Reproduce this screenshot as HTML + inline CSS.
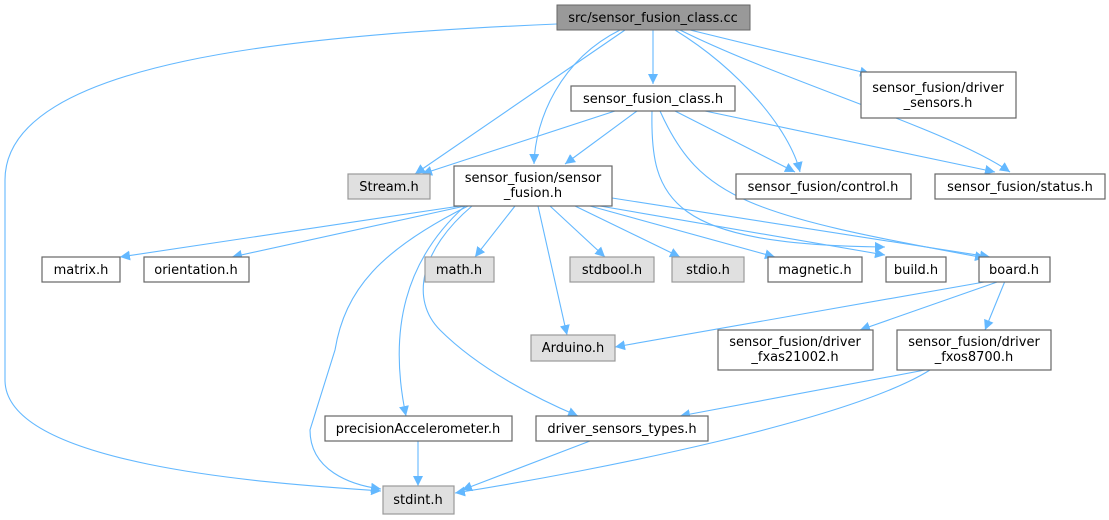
<!DOCTYPE html>
<html><head><meta charset="utf-8"><style>
html,body{margin:0;padding:0;background:#fff;}
svg{display:block;}
text{font-family:"DejaVu Sans","Liberation Sans",sans-serif;font-size:13px;fill:#000;}
.b{fill:#fff;stroke:#666;stroke-width:1.2;}
.g{fill:#e0e0e0;stroke:#999;stroke-width:1.2;}
.e{fill:none;stroke:#63b8ff;stroke-width:1.1;}
</style></head><body>
<svg width="1109" height="520" viewBox="0 0 1109 520" xmlns="http://www.w3.org/2000/svg">
<defs><marker id="a" viewBox="0 0 10 10" refX="10" refY="5" markerWidth="10" markerHeight="10" markerUnits="userSpaceOnUse" orient="auto"><path d="M0,0 L10,5 L0,10 z" fill="#63b8ff"/></marker></defs>
<g class="e" marker-end="url(#a)">
<path d="M557,24 C300,35 5,60 5,180 L5,380 C5,470 300,485 381,491"/>
<path d="M625,30 L415,174"/>
<path d="M620,30 C560,60 535,120 534,164"/>
<path d="M653,30 L653,84"/>
<path d="M675,30 C740,70 790,130 800,172"/>
<path d="M680,30 C780,80 950,130 1010,172"/>
<path d="M690,30 L870,74"/>
<path d="M615,111 L422,174"/>
<path d="M637,111 L565,164"/>
<path d="M675,111 L795,172"/>
<path d="M705,111 L995,172"/>
<path d="M652,111 C650,200 670,245 885,247"/>
<path d="M660,111 C700,200 750,215 985,258"/>
<path d="M460,206 L120,257"/>
<path d="M465,206 L232,257"/>
<path d="M515,206 L475,257"/>
<path d="M550,206 L605,257"/>
<path d="M575,206 L680,257"/>
<path d="M590,206 L775,257"/>
<path d="M600,206 L885,255"/>
<path d="M612,198 L990,257"/>
<path d="M538,206 L567,335"/>
<path d="M468,206 C380,250 345,290 335,350 L310,430 C310,470 350,485 381,489"/>
<path d="M465,206 C405,260 388,330 406,416"/>
<path d="M472,206 C420,250 410,300 440,330 C480,370 540,400 578,416"/>
<path d="M990,281 L615,347"/>
<path d="M1000,281 L860,330"/>
<path d="M1005,281 L985,330"/>
<path d="M925,370 L680,416"/>
<path d="M930,370 C850,420 600,470 455,493"/>
<path d="M418,441 L418,486"/>
<path d="M590,441 L462,490"/>
</g>
<rect x="557" y="5" width="193" height="25" fill="#999" stroke="#666"/>
<text x="653" y="22" text-anchor="middle">src/sensor_fusion_class.cc</text>
<rect class="b" x="861" y="72" width="155" height="46"/>
<text x="938" y="92" text-anchor="middle">sensor_fusion/driver</text>
<text x="938" y="107" text-anchor="middle">_sensors.h</text>
<rect class="b" x="571" y="86" width="164" height="25"/>
<text x="653" y="103" text-anchor="middle">sensor_fusion_class.h</text>
<rect class="g" x="348" y="174" width="82" height="25"/>
<text x="389" y="191" text-anchor="middle">Stream.h</text>
<rect class="b" x="454" y="166" width="158" height="40"/>
<text x="533" y="182" text-anchor="middle">sensor_fusion/sensor</text>
<text x="533" y="197" text-anchor="middle">_fusion.h</text>
<rect class="b" x="736" y="174" width="175" height="25"/>
<text x="823" y="191" text-anchor="middle">sensor_fusion/control.h</text>
<rect class="b" x="935" y="174" width="170" height="25"/>
<text x="1020" y="191" text-anchor="middle">sensor_fusion/status.h</text>
<rect class="b" x="42" y="257" width="78" height="25"/>
<text x="81" y="274" text-anchor="middle">matrix.h</text>
<rect class="b" x="144" y="257" width="105" height="25"/>
<text x="196" y="274" text-anchor="middle">orientation.h</text>
<rect class="g" x="425" y="257" width="69" height="25"/>
<text x="459" y="274" text-anchor="middle">math.h</text>
<rect class="g" x="570" y="257" width="84" height="25"/>
<text x="612" y="274" text-anchor="middle">stdbool.h</text>
<rect class="g" x="672" y="257" width="72" height="25"/>
<text x="708" y="274" text-anchor="middle">stdio.h</text>
<rect class="b" x="768" y="257" width="94" height="25"/>
<text x="815" y="274" text-anchor="middle">magnetic.h</text>
<rect class="b" x="886" y="257" width="60" height="25"/>
<text x="916" y="274" text-anchor="middle">build.h</text>
<rect class="b" x="979" y="257" width="71" height="25"/>
<text x="1014" y="274" text-anchor="middle">board.h</text>
<rect class="g" x="531" y="335" width="84" height="26"/>
<text x="573" y="352" text-anchor="middle">Arduino.h</text>
<rect class="b" x="718" y="330" width="155" height="40"/>
<text x="795" y="346" text-anchor="middle">sensor_fusion/driver</text>
<text x="795" y="361" text-anchor="middle">_fxas21002.h</text>
<rect class="b" x="897" y="330" width="154" height="40"/>
<text x="974" y="346" text-anchor="middle">sensor_fusion/driver</text>
<text x="974" y="361" text-anchor="middle">_fxos8700.h</text>
<rect class="b" x="325" y="416" width="187" height="25"/>
<text x="418" y="433" text-anchor="middle">precisionAccelerometer.h</text>
<rect class="b" x="536" y="416" width="172" height="25"/>
<text x="622" y="433" text-anchor="middle">driver_sensors_types.h</text>
<rect class="g" x="383" y="486" width="71" height="28"/>
<text x="418" y="504" text-anchor="middle">stdint.h</text>
</svg>
</body></html>
